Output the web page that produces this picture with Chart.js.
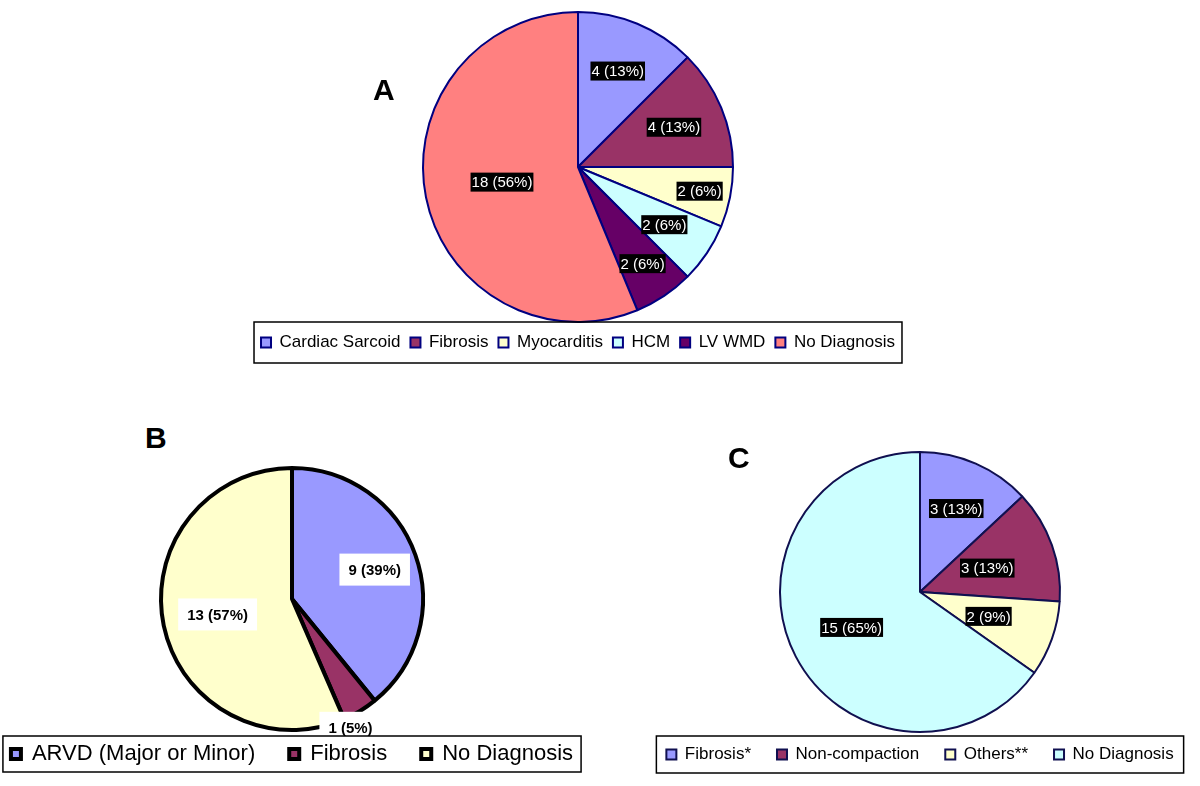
<!DOCTYPE html>
<html>
<head>
<meta charset="utf-8">
<script src="https://cdn.jsdelivr.net/npm/chart.js@4.4.1/dist/chart.umd.min.js"></script>
<style>
  body { margin: 0; background: #fff; width: 1200px; height: 786px; position: relative; overflow: hidden; font-family: "Liberation Sans", Arial, sans-serif; }
  .panel { position: absolute; }
  .tag { position: absolute; font-weight: bold; font-size: 30px; line-height: 1; color: #000; }
</style>
</head>
<body>
<div class="panel" style="left:218px;top:0;width:720px;height:372px"><canvas id="chartA"></canvas></div>
<div class="panel" style="left:-58px;top:462px;width:700px;height:318px"><canvas id="chartB"></canvas></div>
<div class="panel" style="left:620px;top:445px;width:600px;height:335px"><canvas id="chartC"></canvas></div>

<div class="tag" style="left:373px;top:75px">A</div>
<div class="tag" style="left:145px;top:423px">B</div>
<div class="tag" style="left:728px;top:443px">C</div>

<script>
// panel A
const labelsA = ['Cardiac Sarcoid', 'Fibrosis', 'Myocarditis', 'HCM', 'LV WMD', 'No Diagnosis'];
const countsA = [4, 4, 2, 2, 2, 18];
const pctA = [13, 13, 6, 6, 6, 56];

// panel B
const labelsB = ['ARVD (Major or Minor)', 'Fibrosis', 'No Diagnosis'];
const countsB = [9, 1, 13];
const pctB = [39, 5, 57];

// panel C
const labelsC = ['Fibrosis*', 'Non-compaction', 'Others**', 'No Diagnosis'];
const countsC = [3, 3, 2, 15];
const pctC = [13, 13, 9, 65];

const FONT = '"Liberation Sans", Arial, sans-serif';

// value labels in boxes, placed along each slice's middle angle
const sliceLabels = {
  id: 'sliceLabels',
  afterDatasetsDraw(chart, args, opts) {
    const ctx = chart.ctx;
    const meta = chart.getDatasetMeta(0);
    ctx.save();
    ctx.font = opts.font;
    ctx.textAlign = 'center';
    ctx.textBaseline = 'middle';
    meta.data.forEach((arc, i) => {
      const p = arc.getProps(['x', 'y', 'startAngle', 'endAngle', 'outerRadius'], true);
      const mid = (p.startAngle + p.endAngle) / 2 + (opts.turn ? opts.turn[i] : 0);
      const r = p.outerRadius * opts.dist[i];
      const x = p.x + Math.cos(mid) * r;
      const y = p.y + Math.sin(mid) * r;
      const text = opts.texts[i];
      const w = ctx.measureText(text).width + opts.padX * 2;
      const h = opts.height;
      ctx.fillStyle = opts.bg;
      ctx.fillRect(x - w / 2, y - h / 2, w, h);
      ctx.fillStyle = opts.color;
      ctx.fillText(text, x, y + 1);
    });
    ctx.restore();
  }
};

// frame drawn round the legend items
const legendFrame = {
  id: 'legendFrame',
  afterDraw(chart, args, opts) {
    const boxes = chart.legend.legendHitBoxes;
    if (!boxes || !boxes.length) return;
    const left = Math.min(...boxes.map(b => b.left)) - opts.padX;
    const right = Math.max(...boxes.map(b => b.left + b.width)) + opts.padX;
    const top = boxes[0].top - opts.padY;
    const bottom = boxes[0].top + boxes[0].height + opts.padY;
    const ctx = chart.ctx;
    ctx.save();
    ctx.strokeStyle = '#000';
    ctx.lineWidth = 1.5;
    ctx.strokeRect(left, top, right - left, bottom - top);
    ctx.restore();
  }
};

function makePie(id, labels, counts, pct, s) {
  return new Chart(document.getElementById(id), {
    type: 'pie',
    data: {
      labels: labels,
      datasets: [{
        data: counts,
        backgroundColor: s.colors,
        borderColor: s.border,
        borderWidth: s.borderWidth
      }]
    },
    options: {
      responsive: true,
      maintainAspectRatio: false,
      animation: false,
      events: [],
      radius: s.radius,
      layout: { padding: s.padding },
      plugins: {
        tooltip: { enabled: false },
        legend: {
          position: 'bottom',
          labels: {
            color: '#000',
            font: { family: FONT, size: s.legendSize },
            boxWidth: 10,
            boxHeight: 10,
            padding: s.legendGap
          }
        },
        legendFrame: s.frame,
        sliceLabels: {
          texts: counts.map((c, i) => c + ' (' + pct[i] + '%)'),
          dist: s.dist,
          turn: s.turn,
          font: s.labelFont,
          bg: s.labelBg,
          color: s.labelColor,
          padX: s.labelPadX,
          height: s.labelHeight
        }
      }
    },
    plugins: [sliceLabels, legendFrame]
  });
}

makePie('chartA', labelsA, countsA, pctA, {
  colors: ['#9999FF', '#993366', '#FFFFCC', '#CCFFFF', '#660066', '#FF8080'],
  border: '#000080',
  borderWidth: 2,
  radius: 155,
  padding: { top: 10, bottom: 11, left: 0, right: 0 },
  legendSize: 17,
  legendGap: 10,
  frame: { padX: 7, padY: 12 },
  dist: [0.67, 0.67, 0.8, 0.67, 0.75, 0.5],
  labelFont: '15px ' + FONT,
  labelBg: '#000',
  labelColor: '#fff',
  labelPadX: 1,
  labelHeight: 19
});

makePie('chartB', labelsB, countsB, pctB, {
  colors: ['#9999FF', '#993366', '#FFFFCC'],
  border: '#000',
  borderWidth: 4,
  radius: 131,
  padding: { top: 27, bottom: 5, left: 0, right: 0 },
  legendSize: 22,
  legendGap: 34,
  frame: { padX: 8, padY: 7 },
  dist: [0.67, 1.08, 0.58],
  turn: [0, 0.12, 0],
  labelFont: 'bold 15px ' + FONT,
  labelBg: '#fff',
  labelColor: '#000',
  labelPadX: 9,
  labelHeight: 32
});

makePie('chartC', labelsC, countsC, pctC, {
  colors: ['#9999FF', '#993366', '#FFFFCC', '#CCFFFF'],
  border: '#101050',
  borderWidth: 2,
  radius: 140,
  padding: { top: 19, bottom: 7, left: 0, right: 0 },
  legendSize: 17,
  legendGap: 26,
  frame: { padX: 10, padY: 10 },
  dist: [0.65, 0.51, 0.52, 0.55],
  labelFont: '15px ' + FONT,
  labelBg: '#000',
  labelColor: '#fff',
  labelPadX: 1,
  labelHeight: 19
});
</script>
</body>
</html>
